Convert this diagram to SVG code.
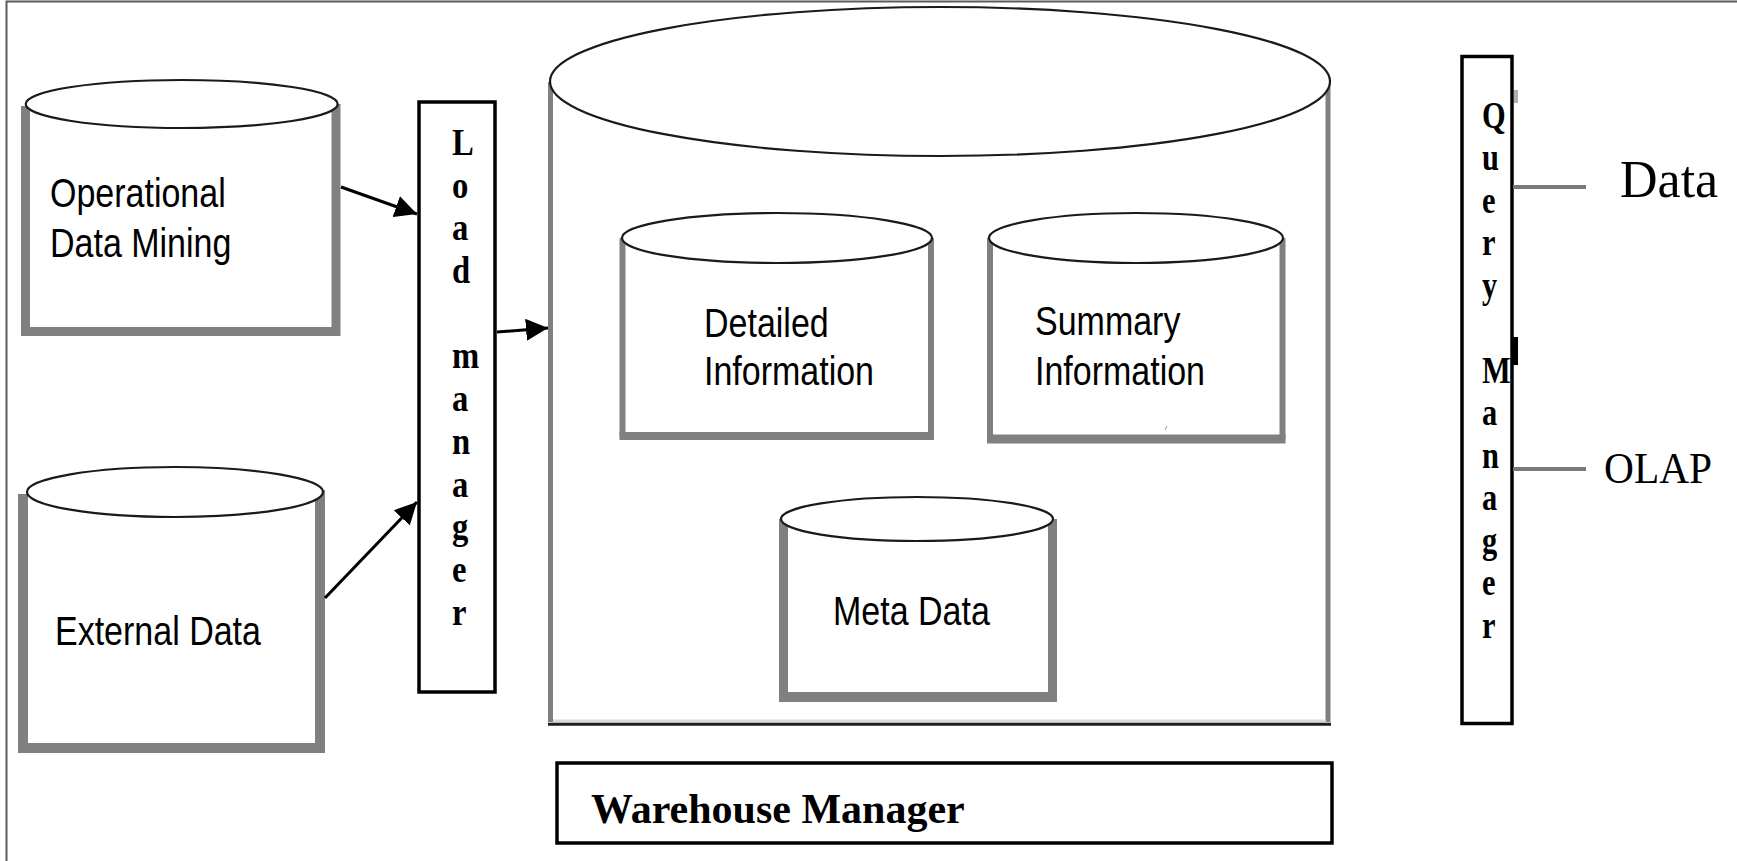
<svg xmlns="http://www.w3.org/2000/svg" width="1737" height="861" viewBox="0 0 1737 861">
  <defs>
    <style>
      .bg { fill: #ffffff; }
      .frame { stroke: #5a5a5a; stroke-width: 2; fill: none; }
      .body { fill: #ffffff; stroke: #808080; stroke-linejoin: miter; }
      .cap { fill: #ffffff; stroke: #1a1a1a; stroke-width: 2.2; }
      .box { fill: #ffffff; stroke: #000000; stroke-width: 3.5; }
      .sans { font-family: "Liberation Sans", Arial, sans-serif; font-size: 40px; fill: #000000; }
      .serif { font-family: "Liberation Serif", "Times New Roman", serif; fill: #000000; }
      .col { font-size: 38px; font-weight: bold; }
      .link { stroke: #000000; stroke-width: 3; fill: none; }
      .tap { stroke: #7a7a7a; stroke-width: 4; fill: none; }
    </style>
    <marker id="arrow" markerUnits="userSpaceOnUse" markerWidth="22" markerHeight="22"
            viewBox="0 0 22 22" refX="22" refY="11" orient="auto">
      <path d="M0,0 L22,11 L0,22 Z" fill="#000000"/>
    </marker>
  </defs>

  <rect class="bg" x="0" y="0" width="1737" height="861"/>
  <!-- page frame: top and left edges -->
  <path class="frame" d="M6.5 861 V1.5 H1737"/>

  <!-- source: operational data mining -->
  <g id="operational-data">
    <path class="body" stroke-width="9" d="M25.5 106 V331.5 H336 V104"/>
    <ellipse class="cap" cx="181.7" cy="104" rx="156" ry="24"/>
    <text class="sans" transform="translate(50 207) scale(0.85 1)">Operational</text>
    <text class="sans" transform="translate(50 257) scale(0.85 1)">Data Mining</text>
  </g>

  <!-- source: external data -->
  <g id="external-data">
    <path class="body" stroke-width="10" d="M23 494 V748 H320 V490"/>
    <ellipse class="cap" cx="175" cy="492" rx="148" ry="25"/>
    <text class="sans" transform="translate(55 645) scale(0.85 1)">External Data</text>
  </g>

  <!-- load manager column -->
  <g id="load-manager">
    <rect class="box" x="419" y="102" width="76" height="590"/>
    <text class="serif col" transform="translate(452 0) scale(0.86 1)">
      <tspan x="0" y="155">L</tspan>
      <tspan x="0" y="197.7">o</tspan>
      <tspan x="0" y="240.4">a</tspan>
      <tspan x="0" y="283.1">d</tspan>
      <tspan x="0" y="368.5">m</tspan>
      <tspan x="0" y="411.2">a</tspan>
      <tspan x="0" y="453.9">n</tspan>
      <tspan x="0" y="496.6">a</tspan>
      <tspan x="0" y="539.3">g</tspan>
      <tspan x="0" y="582">e</tspan>
      <tspan x="0" y="624.7">r</tspan>
    </text>
  </g>

  <!-- warehouse store -->
  <g id="warehouse">
    <path class="body" stroke-width="5" d="M550.5 82 V722 M1328 82 V722"/>
    <line x1="553" y1="721" x2="1326" y2="721" stroke="#d9d9d9" stroke-width="3"/>
    <line x1="548" y1="724.3" x2="1331" y2="724.3" stroke="#1e1e1e" stroke-width="3"/>
    <ellipse class="cap" cx="940" cy="81.5" rx="390" ry="74.5"/>
  </g>

  <g id="detailed-information">
    <path class="body" stroke-width="6" d="M622.5 238 V436 M931 238 V436"/>
    <line x1="619.5" y1="436" x2="934" y2="436" stroke="#808080" stroke-width="8"/>
    <ellipse class="cap" cx="777" cy="238" rx="155" ry="25"/>
    <text class="sans" transform="translate(704 337) scale(0.85 1)">Detailed</text>
    <text class="sans" transform="translate(704 385) scale(0.85 1)">Information</text>
  </g>

  <g id="summary-information">
    <path class="body" stroke-width="6" d="M990 238 V439 M1282.5 238 V439"/>
    <line x1="987" y1="439" x2="1285.5" y2="439" stroke="#808080" stroke-width="9"/>
    <ellipse class="cap" cx="1136" cy="238" rx="147" ry="25"/>
    <line x1="1165" y1="430" x2="1167" y2="426" stroke="#9a9a9a" stroke-width="1"/>
    <text class="sans" transform="translate(1035 335) scale(0.85 1)">Summary</text>
    <text class="sans" transform="translate(1035 385) scale(0.85 1)">Information</text>
  </g>

  <g id="meta-data">
    <path class="body" stroke-width="9" d="M783.5 519 V697 H1052.5 V519"/>
    <line x1="779" y1="697" x2="1057" y2="697" stroke="#808080" stroke-width="10"/>
    <ellipse class="cap" cx="917" cy="519" rx="136" ry="22"/>
    <text class="sans" transform="translate(833 625) scale(0.85 1)">Meta Data</text>
  </g>

  <g id="warehouse-manager">
    <rect class="box" x="557" y="763" width="775" height="80"/>
    <text class="serif" x="591" y="823" font-size="42" font-weight="bold">Warehouse Manager</text>
  </g>

  <!-- query manager column -->
  <g id="query-manager">
    <rect class="box" x="1462" y="56.5" width="50" height="667"/>
    <rect x="1514" y="90" width="4" height="13" fill="#b0b0b0"/>
    <rect x="1512" y="337" width="6" height="28" fill="#000000"/>
    <text class="serif col" transform="translate(1482 0) scale(0.8 1)">
      <tspan x="0" y="128">Q</tspan>
      <tspan x="0" y="170.5">u</tspan>
      <tspan x="0" y="213">e</tspan>
      <tspan x="0" y="255.5">r</tspan>
      <tspan x="0" y="298">y</tspan>
      <tspan x="0" y="383">M</tspan>
      <tspan x="0" y="425.5">a</tspan>
      <tspan x="0" y="468">n</tspan>
      <tspan x="0" y="510.5">a</tspan>
      <tspan x="0" y="553">g</tspan>
      <tspan x="0" y="595.5">e</tspan>
      <tspan x="0" y="638">r</tspan>
    </text>
  </g>

  <g id="data-output">
    <text class="serif" x="1620" y="197" font-size="52">Data</text>
  </g>

  <g id="olap-output">
    <text class="serif" transform="translate(1604 483) scale(0.92 1)" font-size="45">OLAP</text>
  </g>

  <!-- connectors -->
  <g id="connectors">
    <line class="link" x1="341" y1="187" x2="417" y2="214" marker-end="url(#arrow)"/>
    <line class="link" x1="325" y1="598" x2="417" y2="502" marker-end="url(#arrow)"/>
    <line class="link" x1="497" y1="332" x2="548" y2="328" marker-end="url(#arrow)"/>
    <line class="tap" x1="1513" y1="187" x2="1586" y2="187"/>
    <line class="tap" x1="1513" y1="469" x2="1586" y2="469"/>
  </g>
</svg>
